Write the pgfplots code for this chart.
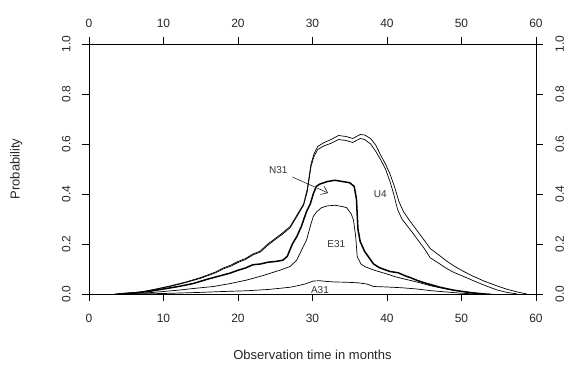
\documentclass[border=0pt]{standalone}
\usepackage{pgfplots}
\pgfplotsset{compat=1.18}
\usepackage{fontspec}
\setmainfont{Liberation Sans}
\usetikzlibrary{arrows.meta}

\pgfplotstableread{
x y
3.5 0
5 0.003
7 0.008
9 0.02
11 0.033
13 0.048
15 0.066
17 0.088
18 0.104
19 0.115
20 0.13
21 0.142
22 0.16
23 0.172
24 0.2
25 0.222
26 0.245
27 0.27
28 0.32
28.8 0.36
29.3 0.42
29.8 0.52
30.2 0.56
30.7 0.59
31.5 0.605
32.5 0.618
33.5 0.634
34.5 0.63
35.4 0.622
36.4 0.638
37 0.636
37.8 0.622
38.5 0.595
39.1 0.558
39.8 0.52
40.4 0.48
41 0.43
41.6 0.37
42.2 0.33
43 0.295
44 0.255
45 0.215
45.8 0.182
47 0.155
48 0.132
49 0.112
50.3 0.09
51.5 0.072
53 0.052
54.8 0.032
56 0.02
57.5 0.008
58.8 0
}\Uupper

\pgfplotstableread{
x y
3.5 0
5 0.003
7 0.008
9 0.019
11 0.031
13 0.046
15 0.063
17 0.085
18 0.1
19 0.111
20 0.126
21 0.138
22 0.156
23 0.168
24 0.195
25 0.218
26 0.24
27 0.265
28 0.315
28.8 0.355
29.3 0.41
29.8 0.51
30.2 0.55
30.7 0.578
31.5 0.592
32.5 0.603
33.5 0.618
34.5 0.614
35.4 0.606
36.4 0.622
37 0.618
37.8 0.6
38.5 0.57
39.1 0.54
39.8 0.5
40.4 0.45
40.9 0.4
41.4 0.34
42 0.3
43 0.262
44 0.222
45 0.182
45.8 0.145
47 0.122
48 0.102
49 0.086
50.3 0.07
52 0.048
53.5 0.03
54.8 0.016
56 0.007
57.5 0
}\Ulower

\pgfplotstableread{
x y
4 0
6 0.004
8 0.01
10 0.02
12 0.03
14 0.042
16 0.06
18 0.076
19 0.084
20 0.095
21 0.104
22 0.117
23 0.12
24 0.127
25 0.13
26 0.135
26.6 0.15
27.3 0.2
27.9 0.23
28.5 0.27
29.2 0.33
29.7 0.36
30.1 0.4
30.5 0.43
31 0.44
32 0.45
33 0.455
34 0.45
35 0.445
35.6 0.43
35.9 0.38
36.1 0.26
36.4 0.21
37 0.17
38.2 0.12
39 0.105
40.4 0.09
41.5 0.085
42.5 0.072
43.1 0.066
44 0.055
45 0.045
47.1 0.027
49 0.015
51.6 0.004
53 0
}\Nthree

\pgfplotstableread{
x y
5 0
8 0.005
10 0.01
12.2 0.016
14 0.022
16.7 0.03
19 0.042
21.2 0.056
23.5 0.075
25.7 0.096
27 0.11
27.9 0.136
28.6 0.18
29.2 0.216
29.7 0.27
30.1 0.31
30.6 0.33
31.2 0.345
31.9 0.352
33 0.355
34 0.35
34.6 0.345
35.2 0.32
35.5 0.296
35.8 0.23
36 0.15
36.5 0.12
37 0.11
38.2 0.096
40 0.08
41 0.07
42.6 0.058
44 0.048
46 0.032
48 0.02
50 0.01
52 0.004
54 0
}\Ethree

\pgfplotstableread{
x y
6 0
10 0.002
14.5 0.006
18 0.01
21.2 0.013
24 0.018
25.7 0.023
27 0.027
28 0.033
29 0.04
30.1 0.052
31 0.053
32 0.05
33 0.048
34.6 0.047
36 0.045
37.3 0.04
38.2 0.03
40 0.028
42 0.025
44 0.02
46 0.013
48 0.008
50 0.003
52 0
}\Athree

\begin{document}
\begin{tikzpicture}
\useasboundingbox (-89pt,-75pt) rectangle (479pt,294pt);
\pgfplotsset{
  common/.style={
    width=447pt, height=250pt, scale only axis,
    xmin=0, xmax=60, ymin=0, ymax=1,
    xtick={0,10,...,60},
    ytick={0,0.2,0.4,0.6,0.8,1.0},
    tick align=outside,
    major tick length=7pt,
    axis line style={black, line width=0.6pt},
    every tick/.style={black, line width=0.6pt},
    tick label style={font=\fontsize{12}{14}\selectfont, text=black!85},
    /pgf/number format/assume math mode=true,
    yticklabel={\pgfmathprintnumber[fixed,fixed zerofill,precision=1]{\tick}},
  }
}
\begin{axis}[common,
  yticklabel style={rotate=90, anchor=south},
  xticklabel shift=10pt,
  yticklabel shift=8pt,
  xlabel={Observation time in months},
  ylabel={Probability},
  label style={font=\fontsize{13}{15}\selectfont, text=black!85},
  xlabel style={at={(axis description cs:0.5,-0.244)}, anchor=center},
  ylabel style={at={(axis description cs:-0.163,0.5)}, anchor=center},
]
\addplot[black, line width=0.7pt] table {\Uupper};
\addplot[black, line width=0.7pt] table {\Ulower};
\addplot[black, line width=1.5pt] table {\Nthree};
\addplot[black, line width=0.7pt] table {\Ethree};
\addplot[black, line width=0.7pt] table {\Athree};
\draw[-{Straight Barb[length=6pt,width=9pt]}, line width=0.6pt, black!85] (axis cs:27.3,0.468) -- (axis cs:32.1,0.404);
\node[font=\fontsize{10}{12}\selectfont, text=black!80] at (axis cs:25.4,0.496) {N31};
\node[font=\fontsize{10}{12}\selectfont, text=black!80] at (axis cs:39.1,0.40) {U4};
\node[font=\fontsize{10}{12}\selectfont, text=black!80] at (axis cs:33.2,0.20) {E31};
\node[font=\fontsize{10}{12}\selectfont, text=black!80] at (axis cs:31.0,0.016) {A31};
\end{axis}
\begin{axis}[common,
  xticklabel pos=upper,
  yticklabel pos=right,
  xticklabel shift=6pt,
  yticklabel shift=9pt,
  yticklabel style={rotate=90, anchor=north},
]
\end{axis}
\end{tikzpicture}
\end{document}
